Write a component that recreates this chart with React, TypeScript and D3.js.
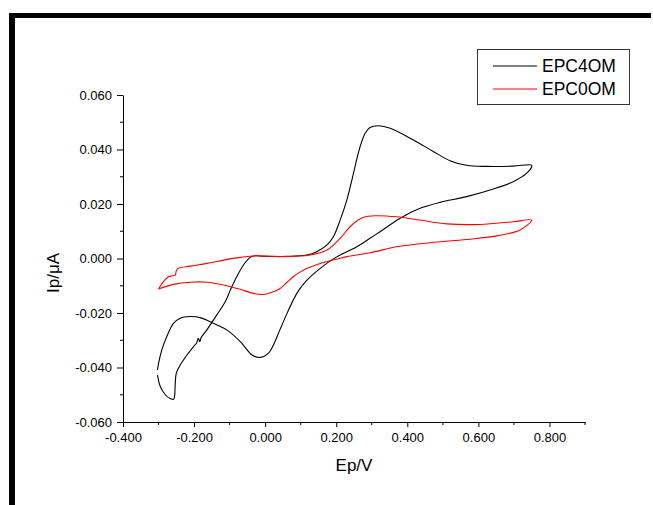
import React, { useEffect, useRef } from 'react';
import * as d3 from 'd3';

// EPC4OM (black) – potential (V) / current, in scan order
const epc4Potential = [
  -0.303, -0.295, -0.281, -0.267, -0.258, -0.255, -0.253, -0.250, -0.239, -0.220, -0.202,
  -0.193, -0.188, -0.184, -0.180, -0.164, -0.136, -0.112, -0.098, -0.080, -0.061, -0.042,
  -0.028, -0.005, 0.061, 0.117, 0.145, 0.174, 0.192, 0.211, 0.230, 0.244, 0.267, 0.281,
  0.295, 0.319, 0.352, 0.417, 0.474, 0.520, 0.567, 0.624, 0.698, 0.750,
  0.736, 0.698, 0.642, 0.567, 0.492, 0.436, 0.380, 0.323, 0.295, 0.258, 0.200, 0.155,
  0.117, 0.094, 0.080, 0.060, 0.042, 0.023, 0.009, -0.014, -0.037, -0.070, -0.108,
  -0.155, -0.183, -0.211, -0.239, -0.258, -0.277, -0.291, -0.300, -0.303,
];
const epc4Current = [
  -0.0428, -0.047, -0.050, -0.0514, -0.0517, -0.0507, -0.0458, -0.0421, -0.0391, -0.0354, -0.0324,
  -0.0310, -0.0293, -0.0305, -0.0290, -0.0262, -0.0207, -0.0158, -0.0116, -0.0067, -0.0024, 0.0004,
  0.0010, 0.0008, 0.0008, 0.0013, 0.0025, 0.0050, 0.0080, 0.0141, 0.0215, 0.0288, 0.0410, 0.0459,
  0.0481, 0.0487, 0.0478, 0.0435, 0.0392, 0.0359, 0.0342, 0.0338, 0.0339, 0.0342,
  0.0313, 0.0282, 0.0255, 0.0227, 0.0206, 0.0184, 0.0148, 0.0098, 0.0074, 0.0043, 0.0005, -0.0036,
  -0.0080, -0.0118, -0.0150, -0.0206, -0.0260, -0.0318, -0.0348, -0.0363, -0.0354, -0.0305, -0.0262,
  -0.0232, -0.0217, -0.0213, -0.0219, -0.0238, -0.0287, -0.0336, -0.0385, -0.0409,
];

// EPC0OM (red)
const epc0Potential = [
  -0.300, -0.258, -0.211, -0.164, -0.117, -0.070, -0.033, -0.005, 0.023, 0.042, 0.061,
  0.080, 0.098, 0.117, 0.155, 0.211, 0.230, 0.295, 0.370, 0.464, 0.567, 0.652, 0.717, 0.750,
  0.698, 0.605, 0.511, 0.436, 0.370, 0.314, 0.277, 0.244, 0.211, 0.174, 0.127, 0.042,
  -0.028, -0.070, -0.117, -0.164, -0.211, -0.244, -0.250, -0.253, -0.263, -0.272, -0.286, -0.300,
];
const epc0Current = [
  -0.0112, -0.0095, -0.0087, -0.0087, -0.0097, -0.0113, -0.0128, -0.0132, -0.0122, -0.0110, -0.0088,
  -0.0066, -0.0050, -0.0037, -0.0018, 0.0001, 0.0007, 0.0021, 0.0043, 0.0058, 0.0070, 0.0083, 0.0105, 0.0141,
  0.0135, 0.0125, 0.0127, 0.0141, 0.0153, 0.0157, 0.0151, 0.0123, 0.0074, 0.0031, 0.0013, 0.0007,
  0.0010, 0.0004, -0.0006, -0.0018, -0.0028, -0.0036, -0.0045, -0.0061, -0.0064, -0.0067, -0.0085, -0.0112,
];

const seriesNames = ['EPC4OM', 'EPC0OM'];
const seriesColors = ['#000000', '#ff0000'];

const xMajor = [-0.4, -0.2, 0, 0.2, 0.4, 0.6, 0.8];
const xMinor = [-0.3, -0.1, 0.1, 0.3, 0.5, 0.7, 0.9];
const yMajor = [-0.06, -0.04, -0.02, 0, 0.02, 0.04, 0.06];
const yMinor = [-0.05, -0.03, -0.01, 0.01, 0.03, 0.05];

const W = 653;
const H = 505;
const FONT = '"Liberation Sans", Arial, sans-serif';

const App = () => {
  const ref = useRef<SVGSVGElement>(null);

  useEffect(() => {
    const svg = d3.select(ref.current);
    svg.selectAll('*').remove();

    const x = d3.scaleLinear().domain([-0.4, 0.9]).range([123, 585]);
    const y = d3.scaleLinear().domain([-0.06, 0.06]).range([422, 95]);
    const fmt = (d: number) => (Math.abs(d) < 1e-9 ? 0 : d).toFixed(3);

    svg.append('rect').attr('width', W).attr('height', H).attr('fill', '#fff');

    // frame bars
    svg.append('rect').attr('x', 9).attr('y', 13).attr('width', 642).attr('height', 5).attr('fill', '#000');
    svg.append('rect').attr('x', 9).attr('y', 13).attr('width', 6).attr('height', H - 13).attr('fill', '#000');

    // x axis
    const gx = svg.append('g').attr('transform', `translate(0,${y(-0.06)})`);
    gx.call(d3.axisBottom(x).tickValues(xMajor).tickSize(5).tickSizeOuter(0).tickPadding(6).tickFormat(d => fmt(+d)));
    gx.append('g').selectAll('line').data(xMinor).enter().append('line')
      .attr('x1', d => x(d)).attr('x2', d => x(d)).attr('y1', 0).attr('y2', 3)
      .attr('stroke', '#000');

    // y axis
    const gy = svg.append('g').attr('transform', `translate(${x(-0.4)},0)`);
    gy.call(d3.axisLeft(y).tickValues(yMajor).tickSize(6).tickSizeOuter(0).tickPadding(5).tickFormat(d => fmt(+d)));
    gy.append('g').selectAll('line').data(yMinor).enter().append('line')
      .attr('y1', d => y(d)).attr('y2', d => y(d)).attr('x1', 0).attr('x2', -3)
      .attr('stroke', '#000');

    [gx, gy].forEach(g => {
      g.select('.domain').attr('stroke', '#000').attr('stroke-width', 1);
      g.selectAll('.tick line').attr('stroke', '#000');
      g.selectAll('.tick text').attr('fill', '#000').style('font-family', FONT).style('font-size', '13px');
    });

    // axis titles
    svg.append('text')
      .attr('x', (x(-0.4) + x(0.9)) / 2).attr('y', 471)
      .attr('text-anchor', 'middle')
      .style('font-family', FONT).style('font-size', '17px')
      .text('Ep/V');
    svg.append('text')
      .attr('transform', `translate(59,273) rotate(-90)`)
      .attr('text-anchor', 'middle')
      .style('font-family', FONT).style('font-size', '17px')
      .text('Ip/μA');

    // curves
    const line = d3.line<[number, number]>()
      .x(d => x(d[0]))
      .y(d => y(d[1]))
      .curve(d3.curveCatmullRom.alpha(0.5));

    const series = [
      d3.zip(epc4Potential, epc4Current) as [number, number][],
      d3.zip(epc0Potential, epc0Current) as [number, number][],
    ];
    series.forEach((pts, i) => {
      svg.append('path')
        .attr('d', line(pts))
        .attr('fill', 'none')
        .attr('stroke', seriesColors[i])
        .attr('stroke-width', 1.1);
    });

    // legend
    const legend = svg.append('g');
    legend.append('rect')
      .attr('x', 477.5).attr('y', 49.5).attr('width', 152).attr('height', 55)
      .attr('fill', '#fff').attr('stroke', '#333').attr('stroke-width', 1);
    seriesNames.forEach((name, i) => {
      const cy = 66 + i * 23;
      legend.append('line')
        .attr('x1', 493).attr('x2', 537).attr('y1', cy).attr('y2', cy)
        .attr('stroke', seriesColors[i]).attr('stroke-width', 1.1);
      legend.append('text')
        .attr('x', 542).attr('y', cy + 6)
        .style('font-family', FONT).style('font-size', '17.5px')
        .text(name);
    });
  }, []);

  return (
    <svg
      ref={ref}
      width={W}
      height={H}
      style={{ position: 'absolute', left: 0, top: 0, display: 'block' }}
    />
  );
};

export default App;
